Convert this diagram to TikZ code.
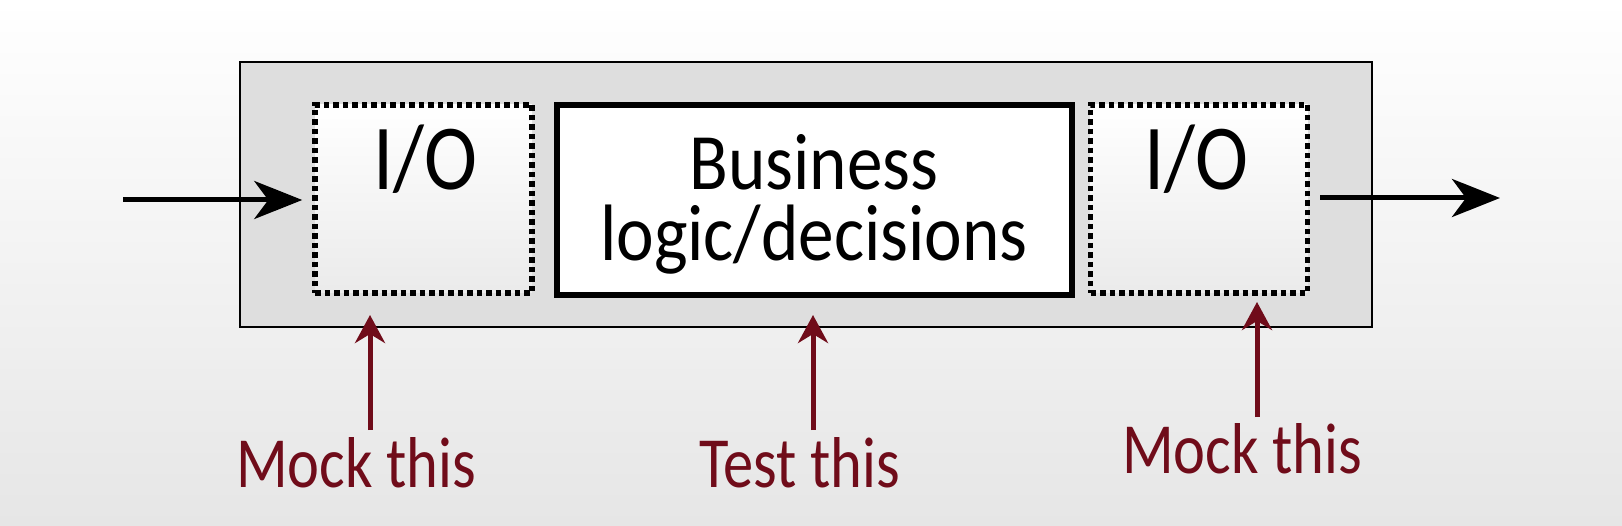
\documentclass[tikz,border=0pt]{standalone}
\usepackage{fontspec}
\setmainfont{Carlito}
\usetikzlibrary{arrows.meta}
\definecolor{maroon}{RGB}{112,12,26}
\definecolor{outerfill}{RGB}{222,222,222}
\definecolor{bglow}{RGB}{230,230,230}
\begin{document}
\begin{tikzpicture}[x=1pt,y=-1pt,
  outerbox/.style={draw=black, line width=2.5pt, fill=outerfill, minimum width=1132pt, minimum height=265pt, inner sep=0},
  iobox/.style={draw=black, line width=5.5pt, dash pattern=on 5.5pt off 4pt, top color=white, bottom color=black!8, minimum width=217pt, minimum height=188pt, inner sep=0},
  logicbox/.style={draw=black, line width=6pt, fill=white, minimum width=515pt, minimum height=190pt, inner sep=0},
  big/.style={font=\fontsize{93}{93}\selectfont, xscale=0.86, anchor=base, inner sep=0},
  biz/.style={font=\fontsize{80}{71}\selectfont, xscale=0.89, align=center, inner sep=0},
  lab/.style={text=maroon, font=\fontsize{72}{72}\selectfont, xscale=0.84, anchor=base, inner sep=0},
  flow/.style={line width=5pt, -{Stealth[length=48pt,width=38pt,inset=14pt]}},
  pointer/.style={maroon, line width=5pt, -{Stealth[length=28pt,width=30pt,inset=9pt]}}
]
\useasboundingbox (0,0) rectangle (1622,526);
\shade[top color=white, middle color=black!2, bottom color=bglow] (0,0) rectangle (1622,526);

\node[outerbox] (outer) at (806,194.5) {};
\node[iobox] (io1) at (423.5,199) {};
\node[logicbox] (logic) at (814.5,200) {};
\node[iobox] (io2) at (1199,199) {};

\node[big] (t1) at (425,190) {I/O};
\node[big] (t2) at (1196,190) {I/O};
\node[biz] (b) at (814,204) {Business\\logic/decisions};

\coordinate (inL) at (123,200);
\coordinate (outR) at (1500,198);
\draw[flow, shorten >=10pt] (inL) -- (io1.west |- inL);
\draw[flow, shorten <=10pt] (io2.east |- outR) -- (outR);

\node[lab] (m1) at (356,487) {Mock this};
\node[lab] (m2) at (800,487) {Test this};
\node[lab] (m3) at (1242,473) {Mock this};

\coordinate (p1) at (370,315);
\coordinate (p2) at (813,315);
\coordinate (p3) at (1257,302);
\coordinate (q1) at (370,430);
\coordinate (q2) at (813,430);
\coordinate (q3) at (1257,417);
\draw[pointer] (q1) -- (p1);
\draw[pointer] (q2) -- (p2);
\draw[pointer] (q3) -- (p3);
\end{tikzpicture}
\end{document}
